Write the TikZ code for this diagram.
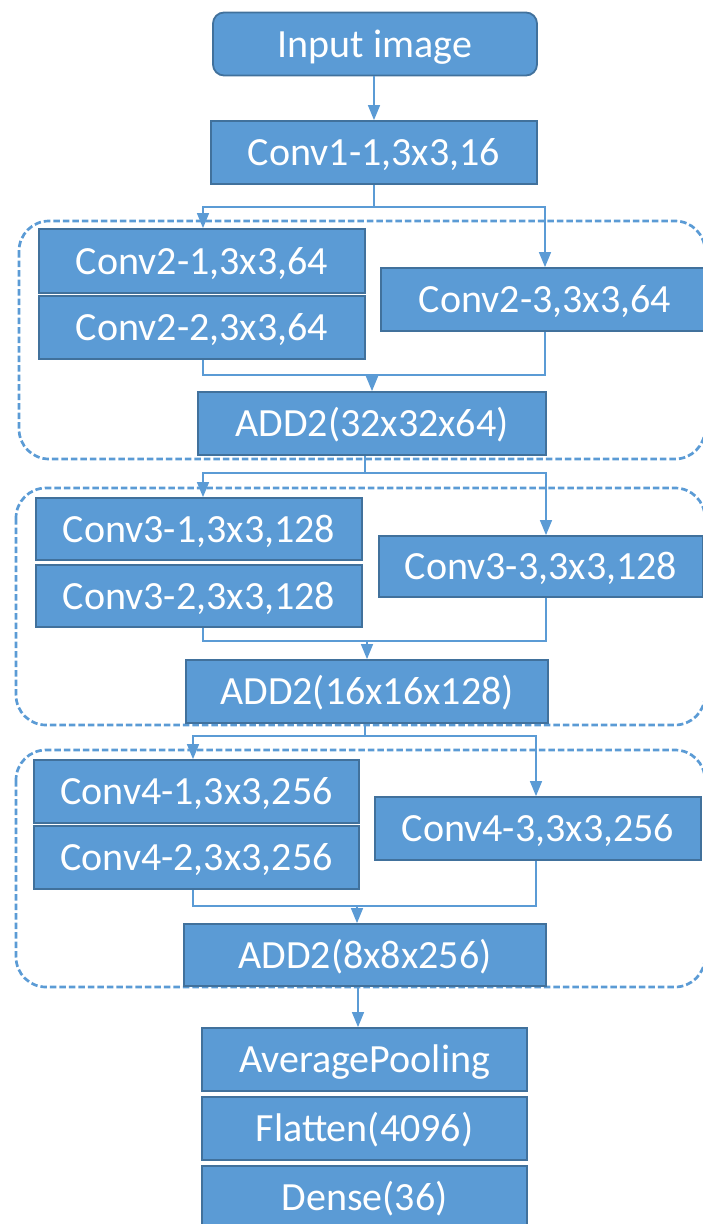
\documentclass[tikz,border=0pt]{standalone}
\usepackage{fontspec}
\setmainfont{Carlito}
\usetikzlibrary{arrows.meta}
\definecolor{boxfill}{HTML}{5B9BD5}
\definecolor{boxline}{HTML}{41719C}
\begin{document}
\begin{tikzpicture}[x=1pt,y=-1pt,
  layer/.style={draw=boxline, fill=boxfill, line width=1.8pt, text=white,
    inner sep=0pt, minimum height=63pt, text height=26pt, text depth=0pt,
    font=\fontsize{40}{48}\selectfont},
  link/.style={draw=boxfill, line width=1.4pt},
  arr/.style={link, -{Triangle[length=15pt,width=12pt]}},
  group/.style={draw=boxfill, line width=2.7pt, dash pattern=on 6.5pt off 3pt, rounded corners=30pt}]
\useasboundingbox (0,0) rectangle (702,1224);

% dashed groups
\draw[group] (19,221) rectangle (705,459);
\draw[group] (16,488) rectangle (705,725);
\draw[group] (16,750) rectangle (705,987);

% nodes
\node[layer, rounded corners=11pt, minimum width=324pt] (in) at (375,44) {Input image};
\node[layer, minimum width=326pt] (c1) at (374,152.5) {Conv1-1,3x3,16};

\node[layer, minimum width=326pt, minimum height=64pt] (c21) at (202,261) {Conv2-1,3x3,64};
\node[layer, minimum width=326pt] (c22) at (202,327.5) {Conv2-2,3x3,64};
\node[layer, minimum width=328pt] (c23) at (545,299.5) {Conv2-3,3x3,64};
\node[layer, minimum width=348pt] (a2) at (372,423.5) {ADD2(32x32x64)};

\node[layer, minimum width=326pt, minimum height=62pt] (c31) at (199,529) {Conv3-1,3x3,128};
\node[layer, minimum width=326pt, minimum height=62pt] (c32) at (199,596) {Conv3-2,3x3,128};
\node[layer, minimum width=324pt, minimum height=61pt] (c33) at (541,566.5) {Conv3-3,3x3,128};
\node[layer, minimum width=362pt] (a3) at (367,691.5) {ADD2(16x16x128)};

\node[layer, minimum width=325pt] (c41) at (196.5,791.5) {Conv4-1,3x3,256};
\node[layer, minimum width=325pt] (c42) at (196.5,857.5) {Conv4-2,3x3,256};
\node[layer, minimum width=326pt] (c43) at (538,828.5) {Conv4-3,3x3,256};
\node[layer, minimum width=362pt, minimum height=62pt] (a4) at (365,955) {ADD2(8x8x256)};

\node[layer, minimum width=325pt] (ap) at (364.5,1059.5) {AveragePooling};
\node[layer, minimum width=325pt] (fl) at (364.5,1128.5) {Flatten(4096)};
\node[layer, minimum width=325pt, minimum height=62pt] (de) at (364.5,1197) {Dense(36)};

% connector coordinates
\coordinate (s1) at (374,207);
\coordinate (l1) at (203,207);
\coordinate (r1) at (545,207);
\coordinate (m1) at (372,375);

\coordinate (s2) at (365,473);
\coordinate (l2) at (203,473);
\coordinate (r2) at (546,473);
\coordinate (m2) at (367,641);

\coordinate (s3) at (365,736);
\coordinate (l3) at (193,736);
\coordinate (r3) at (536,736);
\coordinate (m3) at (357,906);
\coordinate (o4) at (358,1000);

% connectors
\draw[arr] (in.south -| c1.north) -- (c1.north);

\draw[link] (c1.south) -- (s1);
\draw[arr] (s1) -- (l1) -- (l1 |- c21.north);
\draw[arr] (s1) -- (r1) -- (r1 |- c23.north);
\draw[link] (l1 |- c22.south) |- (m1);
\draw[link] (r1 |- c23.south) |- (m1);
\draw[arr] (m1) -- (m1 |- a2.north);

\draw[link] (s2 |- a2.south) -- (s2);
\draw[arr] (s2) -- (l2) -- (l2 |- c31.north);
\draw[arr] (s2) -- (r2) -- (r2 |- c33.north);
\draw[link] (l2 |- c32.south) |- (m2);
\draw[link] (r2 |- c33.south) |- (m2);
\draw[arr] (m2) -- (m2 |- a3.north);

\draw[link] (s3 |- a3.south) -- (s3);
\draw[arr] (s3) -- (l3) -- (l3 |- c41.north);
\draw[arr] (s3) -- (r3) -- (r3 |- c43.north);
\draw[link] (l3 |- c42.south) |- (m3);
\draw[link] (r3 |- c43.south) |- (m3);
\draw[arr] (m3) -- (m3 |- a4.north);

\draw[arr] (o4 |- a4.south) -- (o4 |- ap.north);
\end{tikzpicture}
\end{document}
